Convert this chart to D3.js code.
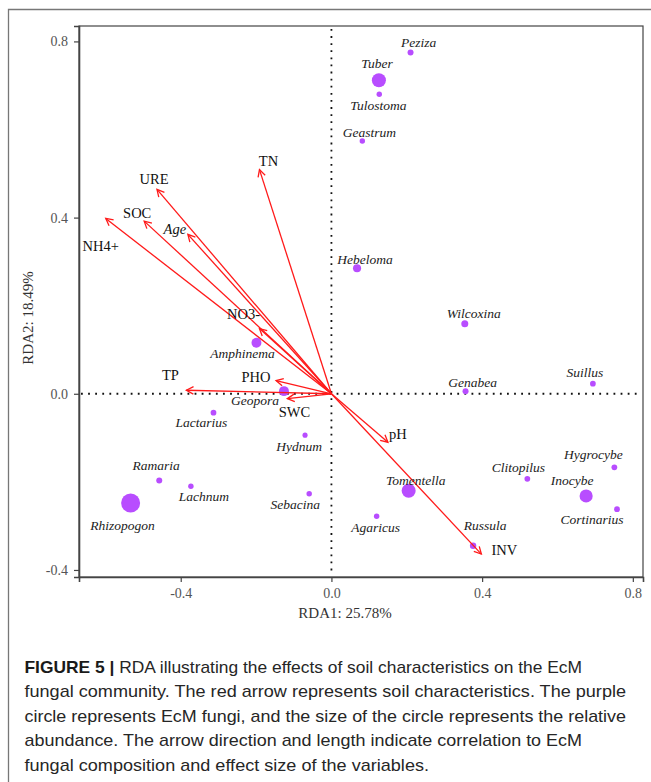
<!DOCTYPE html>
<html>
<head>
<meta charset="utf-8">
<script src="https://cdn.jsdelivr.net/npm/d3@7/dist/d3.min.js"></script>
<style>
  html, body { margin: 0; padding: 0; background: #fff; }
  svg { display: block; }
</style>
</head>
<body>
<svg id="chart" width="651" height="782"></svg>
<script>
// ---------- data ----------
const envVars  = ["URE", "TN", "NH4+", "SOC", "Age", "NO3-", "PHO", "TP", "SWC", "pH", "INV"];
const envRDA1  = [-0.463, -0.191, -0.599, -0.497, -0.381, -0.191, -0.147, -0.385, -0.117, 0.150, 0.398];
const envRDA2  = [ 0.464,  0.509,  0.398,  0.392,  0.362,  0.148,  0.030,  0.008, -0.011, -0.110, -0.364];

const species  = ["Peziza", "Tuber", "Tulostoma", "Geastrum", "Hebeloma", "Wilcoxina", "Genabea", "Suillus",
                  "Hygrocybe", "Clitopilus", "Inocybe", "Cortinarius", "Tomentella", "Agaricus", "Russula",
                  "Amphinema", "Geopora", "Lactarius", "Hydnum", "Ramaria", "Lachnum", "Rhizopogon", "Sebacina"];
const spRDA1   = [0.210, 0.126, 0.127, 0.082, 0.068, 0.354, 0.356, 0.694,
                  0.751, 0.520, 0.676, 0.758, 0.205, 0.120, 0.376,
                  -0.199, -0.126, -0.313, -0.070, -0.457, -0.373, -0.533, -0.059];
const spRDA2   = [0.775, 0.712, 0.680, 0.574, 0.285, 0.159, 0.006, 0.023,
                  -0.167, -0.193, -0.232, -0.262, -0.220, -0.278, -0.345,
                  0.116, 0.006, -0.043, -0.094, -0.197, -0.210, -0.248, -0.227];
const spAbund  = [2.2, 12, 1.8, 1.8, 4, 3, 2.2, 2,
                  2, 2, 10.5, 2, 12, 1.8, 2.5,
                  6, 6, 2, 1.6, 2.2, 1.8, 22, 1.8];

const xTicks = [-0.4, 0.0, 0.4, 0.8];
const yTicks = [-0.4, 0.0, 0.4, 0.8];
const xTitle = "RDA1: 25.78%";
const yTitle = "RDA2: 18.49%";

const captionLines = [
  "RDA illustrating the effects of soil characteristics on the EcM",
  "fungal community. The red arrow represents soil characteristics. The purple",
  "circle represents EcM fungi, and the size of the circle represents the relative",
  "abundance. The arrow direction and length indicate correlation to EcM",
  "fungal composition and effect size of the variables."
];

// ---------- layout (label offsets in px) ----------
const envLabelOff = {
  "URE": [-3, -10], "TN": [9, -9], "NH4+": [-5, 27], "SOC": [-7, -8], "Age": [-13, -5],
  "NO3-": [-16, -15], "PHO": [-20, -4], "TP": [-16, -15], "SWC": [7, 13], "pH": [10, -8], "INV": [23, -4]
};
const envItalic = { "Age": true };
const spLabelOff = {
  "Peziza": [8, -10], "Tuber": [-2, -17], "Tulostoma": [-1, 11], "Geastrum": [7, -9],
  "Hebeloma": [8, -9], "Wilcoxina": [9, -10], "Genabea": [7, -9], "Suillus": [-8, -11],
  "Hygrocybe": [-21, -13], "Clitopilus": [-9, -12], "Inocybe": [-14, -16], "Cortinarius": [-25, 10],
  "Tomentella": [7, -10], "Agaricus": [-1, 11], "Russula": [12, -20], "Amphinema": [-14, 11],
  "Geopora": [-29, 9], "Lactarius": [-12, 10], "Hydnum": [-6, 11], "Ramaria": [-3, -15],
  "Lachnum": [13, 10], "Rhizopogon": [-8, 22], "Sebacina": [-14, 11]
};

// ---------- drawing ----------
const svg = d3.select("#chart");
const serif = "'Liberation Serif', 'Times New Roman', serif";

const plot = { left: 79, right: 643, top: 26, bottom: 577 };
const x = d3.scaleLinear().domain([-0.670, 0.827]).range([plot.left, plot.right]);
const y = d3.scaleLinear().domain([-0.416, 0.835]).range([plot.bottom, plot.top]);
const r = d3.scaleSqrt().domain([0, 22]).range([0, 9.5]);

// outer frame
svg.append("path")
  .attr("d", "M8.5,782 L8.5,9.5 L651,9.5")
  .attr("fill", "none").attr("stroke", "#777").attr("stroke-width", 1.3);

// plot box
svg.append("rect")
  .attr("x", plot.left).attr("y", plot.top)
  .attr("width", plot.right - plot.left).attr("height", plot.bottom - plot.top)
  .attr("fill", "none").attr("stroke", "#444").attr("stroke-width", 1.2);

// axes
const xAxis = svg.append("g").attr("transform", `translate(0,${plot.bottom})`)
  .call(d3.axisBottom(x).tickValues(xTicks).tickFormat(d3.format(".1f")).tickSize(5).tickPadding(6));
const yAxis = svg.append("g").attr("transform", `translate(${plot.left},0)`)
  .call(d3.axisLeft(y).tickValues(yTicks).tickFormat(d3.format(".1f")).tickSize(5).tickPadding(6));
[xAxis, yAxis].forEach(g => {
  g.select(".domain").attr("stroke", "#444").attr("stroke-width", 1.6);
  g.selectAll(".tick line").attr("stroke", "#444").attr("stroke-width", 1.2);
  g.selectAll(".tick text").attr("fill", "#555").attr("font-family", serif).attr("font-size", 14);
});
xAxis.selectAll(".tick text").text(d => d === 0 ? "0.0" : d3.format(".1f")(d).replace("−", "-"));
yAxis.selectAll(".tick text").text(d => d === 0 ? "0.0" : d3.format(".1f")(d).replace("−", "-"));

// axis titles
svg.append("text").attr("x", 345).attr("y", 618)
  .attr("text-anchor", "middle").attr("font-family", serif).attr("font-size", 15).attr("fill", "#333")
  .text(xTitle);
svg.append("text").attr("transform", "translate(33,318) rotate(-90)")
  .attr("text-anchor", "middle").attr("font-family", serif).attr("font-size", 15).attr("fill", "#333")
  .text(yTitle);

// zero dotted lines
svg.append("line").attr("x1", x(0)).attr("x2", x(0)).attr("y1", plot.top + 3).attr("y2", plot.bottom - 2)
  .attr("stroke", "#111").attr("stroke-width", 1.8).attr("stroke-dasharray", "1.8,5.3").attr("stroke-linecap", "butt");
svg.append("line").attr("y1", y(0)).attr("y2", y(0)).attr("x1", plot.left + 2).attr("x2", plot.right - 2)
  .attr("stroke", "#111").attr("stroke-width", 1.8).attr("stroke-dasharray", "1.8,5.3").attr("stroke-linecap", "butt");

// species points
const spData = species.map((s, i) => ({ name: s, x: spRDA1[i], y: spRDA2[i], a: spAbund[i] }));
svg.append("g").selectAll("circle").data(spData).join("circle")
  .attr("cx", d => x(d.x)).attr("cy", d => y(d.y)).attr("r", d => r(d.a))
  .attr("fill", "#b84dff");

// arrows
const envData = envVars.map((v, i) => ({ name: v, x: envRDA1[i], y: envRDA2[i] }));
const ag = svg.append("g");
envData.forEach(d => {
  const x0 = x(0), y0 = y(0), x1 = x(d.x), y1 = y(d.y);
  const ang = Math.atan2(y1 - y0, x1 - x0);
  const L = 8, A = Math.PI / 6.5;
  ag.append("line").attr("x1", x0).attr("y1", y0).attr("x2", x1).attr("y2", y1)
    .attr("stroke", "#ff1a1a").attr("stroke-width", 1.3);
  const p1 = [x1 - L * Math.cos(ang - A), y1 - L * Math.sin(ang - A)];
  const p2 = [x1 - L * Math.cos(ang + A), y1 - L * Math.sin(ang + A)];
  ag.append("path").attr("d", `M${p1[0]},${p1[1]} L${x1},${y1} L${p2[0]},${p2[1]}`)
    .attr("fill", "none").attr("stroke", "#ff1a1a").attr("stroke-width", 1.3);
});

// env labels
svg.append("g").selectAll("text").data(envData).join("text")
  .attr("x", d => x(d.x) + envLabelOff[d.name][0])
  .attr("y", d => y(d.y) + envLabelOff[d.name][1])
  .attr("dy", "0.35em").attr("text-anchor", "middle")
  .attr("font-family", serif).attr("font-size", 14.5).attr("fill", "#111")
  .attr("font-style", d => envItalic[d.name] ? "italic" : "normal")
  .text(d => d.name);

// species labels
svg.append("g").selectAll("text").data(spData).join("text")
  .attr("x", d => x(d.x) + spLabelOff[d.name][0])
  .attr("y", d => y(d.y) + spLabelOff[d.name][1])
  .attr("dy", "0.35em").attr("text-anchor", "middle")
  .attr("font-family", serif).attr("font-size", 13.5).attr("font-style", "italic").attr("fill", "#222")
  .text(d => d.name);

// caption
const sans = "'Liberation Sans', Arial, sans-serif";
const capX = 24.5, capY0 = 672.5, capDy = 24.6;
const capEnds = [582, 626, 626, 582, 429];
captionLines.forEach((line, i) => {
  const t = svg.append("text").attr("x", capX).attr("y", capY0 + i * capDy)
    .attr("font-family", sans).attr("font-size", 17).attr("fill", "#262626")
    .attr("textLength", capEnds[i] - capX).attr("lengthAdjust", "spacingAndGlyphs");
  if (i === 0) {
    t.append("tspan").attr("font-weight", "bold").attr("fill", "#1a1a1a").text("FIGURE 5 | ");
  }
  t.append("tspan").text(line);
});
</script>
</body>
</html>
